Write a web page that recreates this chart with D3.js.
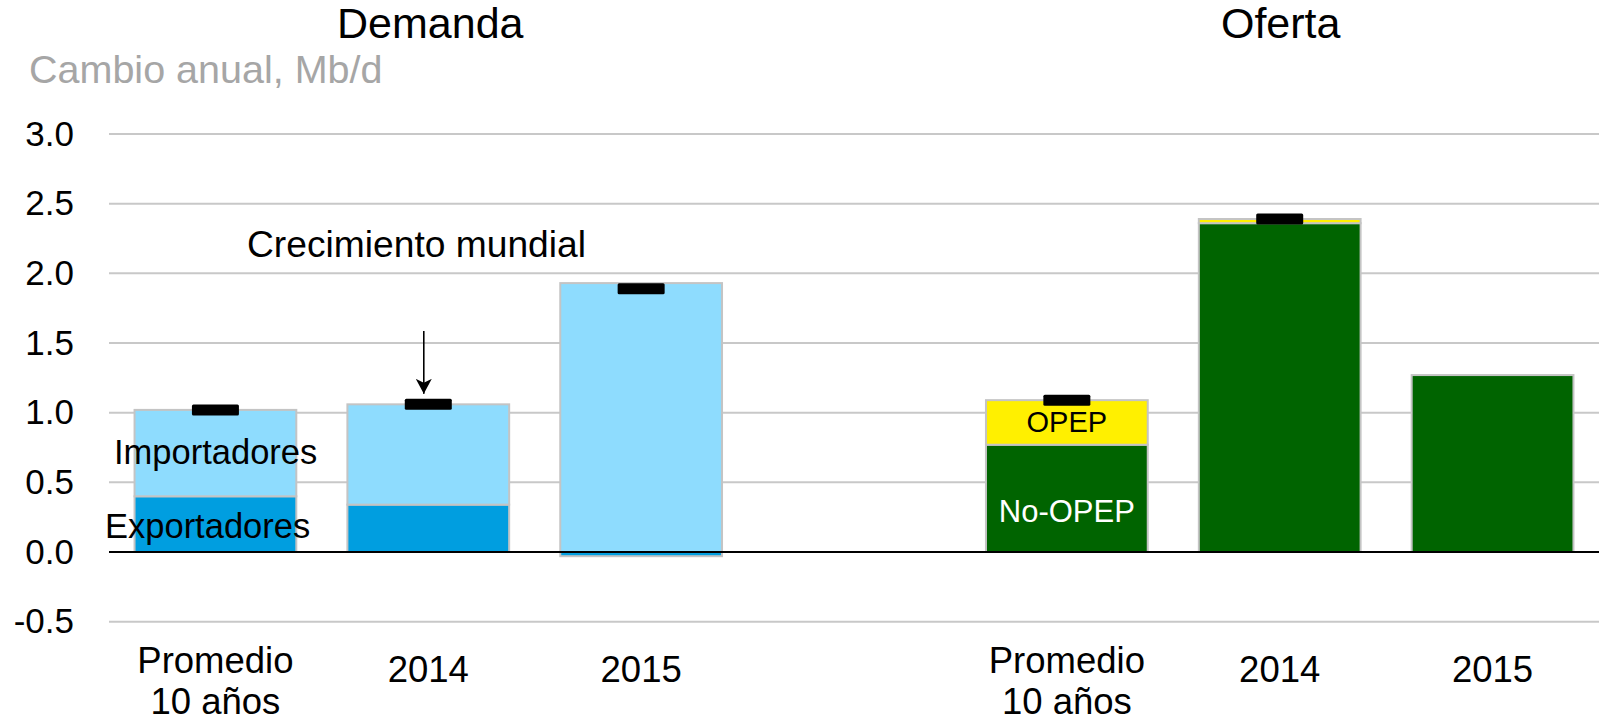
<!DOCTYPE html>
<html><head><meta charset="utf-8">
<script src="https://cdn.jsdelivr.net/npm/d3@7"></script>
<style>
html,body{margin:0;padding:0;background:#fff;}
svg{display:block;font-family:"Liberation Sans",Arial,sans-serif;}
</style></head>
<body>
<svg id="c" width="1599" height="721"></svg>
<script>
// ---- data ----
const panelTitles = ["Demanda", "Oferta"];
const categories = ["Promedio|10 años", "2014", "2015"];
const yTicks = [-0.5, 0.0, 0.5, 1.0, 1.5, 2.0, 2.5, 3.0];
const yTickLabels = ["-0.5", "0.0", "0.5", "1.0", "1.5", "2.0", "2.5", "3.0"];
// Demanda
const exportadores = [0.40, 0.34, -0.03];
const importadores = [0.62, 0.72, 1.93];
const crecimientoMundial = [1.02, 1.06, 1.89];
// Oferta
const noOpep = [0.77, 2.36, 1.27];
const opep = [0.32, 0.03, 0.00];
const ofertaTotal = [1.09, 2.39, null];

// ---- layout ----
const svg = d3.select("#c");
const plotLeft = 109, plotRight = 1599;
const slots = d3.range(7); // 3 demand, 1 gap, 3 supply
const x = d3.scaleBand().domain(slots).range([plotLeft, plotRight]).paddingInner(0.24).paddingOuter(0.12);
const y = d3.scaleLinear().domain([-0.5, 3.0]).range([621.7, 134]);

const colLight = "#8edcfe", colDark = "#009ee0", colGreen = "#006400", colYellow = "#fff000";
const barStroke = "#c4c4c4";

// gridlines
svg.append("g").selectAll("line").data(yTicks.filter(d => d !== 0)).join("line")
  .attr("x1", plotLeft).attr("x2", plotRight)
  .attr("y1", d => y(d)).attr("y2", d => y(d))
  .attr("stroke", "#c8c8c8").attr("stroke-width", 2);

// y axis labels
const yAxis = d3.axisLeft(y).tickValues(yTicks)
  .tickFormat((d, i) => yTickLabels[i]).tickSize(0).tickPadding(0);
const ya = svg.append("g").attr("transform", "translate(74,0)").call(yAxis);
ya.select(".domain").remove();
ya.selectAll("text").attr("font-size", 35).attr("fill", "#000")
  .attr("font-family", "'Liberation Sans', Arial, sans-serif");

// stacked segments
function seg(g, slot, y0, y1, fill) {
  if (y0 === y1) return;
  g.append("rect")
    .attr("x", x(slot)).attr("width", x.bandwidth())
    .attr("y", y(Math.max(y0, y1))).attr("height", Math.abs(y(y0) - y(y1)))
    .attr("fill", fill).attr("stroke", barStroke).attr("stroke-width", 2);
}
const bars = svg.append("g");
categories.forEach((c, i) => {
  const e = exportadores[i], im = importadores[i];
  if (e >= 0) { seg(bars, i, 0, e, colDark); seg(bars, i, e, e + im, colLight); }
  else { seg(bars, i, 0, im, colLight); seg(bars, i, e, 0, colDark); }
  const s = i + 4;
  seg(bars, s, 0, noOpep[i], colGreen);
  seg(bars, s, noOpep[i], noOpep[i] + opep[i], colYellow);
});

// zero line
svg.append("line").attr("x1", plotLeft).attr("x2", plotRight)
  .attr("y1", y(0)).attr("y2", y(0)).attr("stroke", "#000").attr("stroke-width", 2);

// total markers
const mW = 47, mH = 11;
const markers = crecimientoMundial.map((v, i) => ({slot: i, v}))
  .concat(ofertaTotal.map((v, i) => ({slot: i + 4, v})).filter(d => d.v !== null));
svg.append("g").selectAll("rect").data(markers).join("rect")
  .attr("x", d => x(d.slot) + x.bandwidth() / 2 - mW / 2)
  .attr("y", d => y(d.v) - mH / 2)
  .attr("width", mW).attr("height", mH).attr("rx", 1.5).attr("fill", "#000");

// category labels
const labG = svg.append("g").attr("font-size", 36.5).attr("text-anchor", "middle");
[0, 4].forEach(off => {
  categories.forEach((c, i) => {
    const cx = x(i + off) + x.bandwidth() / 2;
    const lines = c.split("|");
    if (lines.length === 2) {
      labG.append("text").attr("x", cx).attr("y", 673).text(lines[0]);
      labG.append("text").attr("x", cx).attr("y", 714).text(lines[1]);
    } else {
      labG.append("text").attr("x", cx).attr("y", 682).text(lines[0]);
    }
  });
});

// panel titles
const dCenter = (x(0) + x(2) + x.bandwidth()) / 2;
const sCenter = (x(4) + x(6) + x.bandwidth()) / 2;
svg.append("text").attr("x", dCenter + 2).attr("y", 38).attr("text-anchor", "middle")
  .attr("font-size", 43).text(panelTitles[0]);
svg.append("text").attr("x", sCenter + 1).attr("y", 38).attr("text-anchor", "middle")
  .attr("font-size", 43).text(panelTitles[1]);

// subtitle
svg.append("text").attr("x", 29).attr("y", 83).attr("font-size", 39.5).attr("fill", "#a6a6a6")
  .text("Cambio anual, Mb/d");

// annotations
svg.append("text").attr("x", 247).attr("y", 257).attr("font-size", 37.2).text("Crecimiento mundial");
svg.append("text").attr("x", 114).attr("y", 464).attr("font-size", 34.5).text("Importadores");
svg.append("text").attr("x", 105).attr("y", 538).attr("font-size", 34.5).text("Exportadores");
const sc0 = x(4) + x.bandwidth() / 2;
svg.append("text").attr("x", sc0).attr("y", 432).attr("font-size", 29).attr("text-anchor", "middle").text("OPEP");
svg.append("text").attr("x", sc0).attr("y", 522).attr("font-size", 31).attr("text-anchor", "middle")
  .attr("fill", "#fff").text("No-OPEP");

// arrow
svg.append("defs").append("marker").attr("id", "ah").attr("viewBox", "0 0 16 16")
  .attr("refX", 15).attr("refY", 8).attr("markerWidth", 16).attr("markerHeight", 16)
  .attr("markerUnits", "userSpaceOnUse").attr("orient", "auto")
  .append("path").attr("d", "M0,0 L15,8 L0,16 L4,8 Z").attr("fill", "#000");
const ax = x(1) + x.bandwidth() / 2 - 4.5;
const tipY = y(crecimientoMundial[1]) - mH / 2 - 5;
svg.append("line").attr("x1", ax).attr("x2", ax).attr("y1", 331).attr("y2", tipY)
  .attr("stroke", "#000").attr("stroke-width", 1.6).attr("marker-end", "url(#ah)");
</script>
</body></html>
